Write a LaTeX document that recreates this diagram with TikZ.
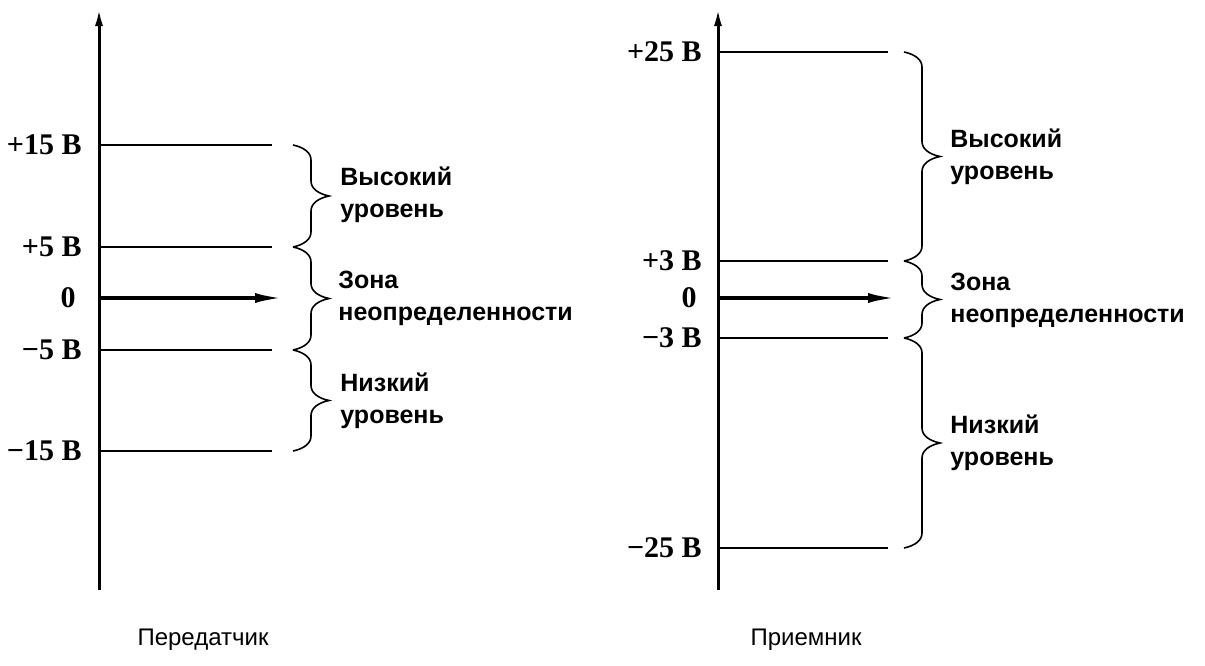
\documentclass[tikz,border=0pt]{standalone}
\usepackage{fontspec}
\setmainfont{Liberation Serif}
\setsansfont{Liberation Sans}
\usetikzlibrary{arrows.meta,positioning,decorations.pathreplacing}

\begin{document}
\begin{tikzpicture}[x=0.5pt, y=-0.5pt, axis/.style={line width=1.5pt, -{Latex[length=9pt, width=4pt]}}, level/.style={line width=1pt}, zero/.style={line width=1.8pt, -{Latex[length=14pt, width=5pt]}}, brace/.style={decorate, decoration={brace, amplitude=7.5pt, transform={yscale=2.4}}, line width=0.8pt}, volt/.style={anchor=east, inner sep=0pt, font=\bfseries\fontsize{15}{18}\selectfont}, zone/.style={anchor=west, align=left, inner sep=0pt, font=\sffamily\bfseries\fontsize{12.5}{16}\selectfont}, caption/.style={inner sep=0pt, font=\sffamily\fontsize{12}{14}\selectfont}]
\useasboundingbox (0,0) rectangle (1205,665);
% transmitter
\coordinate (tbot) at (99,590);
\coordinate (ttop) at (99,8);
\draw[axis] (tbot) -- (ttop);
\node[volt] (tp15) at (82,145) {+15 В};
\node[volt] (tp5) at (82,247) {+5 В};
\node[volt] (tzero) at (76,298) {0};
\node[volt] (tm5) at (82,350) {−5 В};
\node[volt] (tm15) at (82,451) {−15 В};
\draw[level] (99,145) -- (272,145);
\draw[level] (99,247) -- (272,247);
\draw[zero] (99,298) -- (283,298);
\draw[level] (99,350) -- (272,350);
\draw[level] (99,451) -- (272,451);
\draw[brace] (293,145) -- (293,247);
\draw[brace] (293,247) -- (293,350);
\draw[brace] (293,350) -- (293,451);
\node[zone] (thigh) at (340,195) {Высокий\\уровень};
\node[zone] (tmid) at (338,298) {Зона\\неопределенности};
\node[zone] (tlow) at (340,401) {Низкий\\уровень};
\node[caption] (tname) at (203,640) {Передатчик};
% receiver
\coordinate (rbot) at (718,590);
\coordinate (rtop) at (718,8);
\draw[axis] (rbot) -- (rtop);
\node[volt] (rp25) at (702,52) {+25 В};
\node[volt] (rp3) at (702,261) {+3 В};
\node[volt] (rzero) at (697,298) {0};
\node[volt] (rm3) at (702,338) {−3 В};
\node[volt] (rm25) at (702,548) {−25 В};
\draw[level] (718,52) -- (888,52);
\draw[level] (718,261) -- (888,261);
\draw[zero] (718,298) -- (896,298);
\draw[level] (718,338) -- (888,338);
\draw[level] (718,548) -- (888,548);
\draw[brace] (904,52) -- (904,261);
\draw[brace] (904,261) -- (904,338);
\draw[brace] (904,338) -- (904,548);
\node[zone] (rhigh) at (950,157) {Высокий\\уровень};
\node[zone] (rmid) at (950,300) {Зона\\неопределенности};
\node[zone] (rlow) at (950,443) {Низкий\\уровень};
\node[caption] (rname) at (806,640) {Приемник};
\end{tikzpicture}
\end{document}
